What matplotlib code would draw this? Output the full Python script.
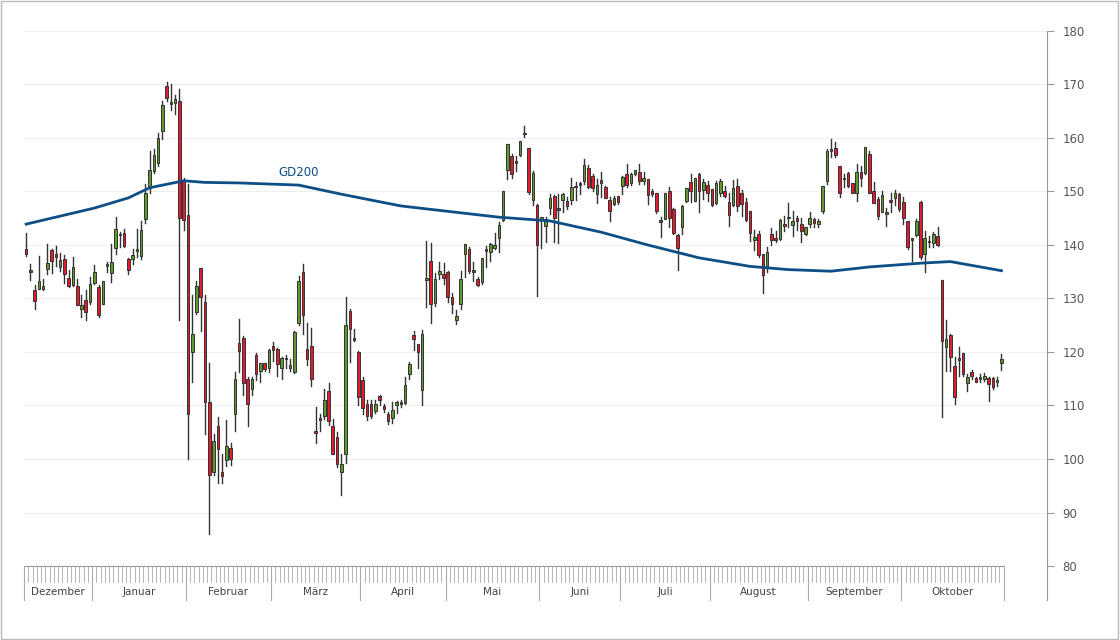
import matplotlib
matplotlib.use("Agg")
import matplotlib.pyplot as plt
from matplotlib.patches import Rectangle
import numpy as np

opens = [139.3,135,131.6,131.8,131.8,135.5,139.1,138.4,135.8,137.4,133.8,132.5,132.4,128,129.8,129.3,132.9,132.2,129,136,
134.7,139.4,141.8,142.2,137.4,137.4,138.9,137.9,144.8,150.6,153.8,155.4,161.4,169.7,166.4,166.6,167,151.9,145.6,120,
127.5,135.7,129.4,110.6,97.6,106.1,97.5,99.8,102,108.4,121.7,122.7,115,113.1,119.4,116.4,118,117,121.1,120.5,
117.1,118.6,117,116.2,125.5,135,120.5,121.1,105.3,107.3,108,112.7,106.1,104.2,97.5,101,127.7,122.3,120,114.8,
110.3,110.3,109,111.8,110,108.5,107.7,110.1,110.3,110.4,115.9,123.2,121.5,112.9,133.4,137,129.1,134.6,134.6,134.9,
130.3,126,129,138.4,139.2,135,133.6,133,139.2,138.7,139.5,141.4,144.6,154.1,156.7,155.4,156.9,160.7,158.1,148.5,
147.5,144.6,143.5,146.9,149.1,146.6,148.4,148.3,148.5,150.8,151.2,151.9,154.4,152.9,149.5,152.2,150.9,148.5,147.7,149.2,
151,153.3,151.5,153.2,153.7,151.9,152.3,150.1,149.8,144.3,144.8,150,146.7,141.9,143.3,148.3,151.7,148.3,153.2,150.2,
151.2,150.5,147.8,149.8,150,148.1,147.4,151.1,149.7,148,146.4,140.9,142,138.3,135.8,142,141.3,141.1,143.9,145,
143.7,145,144,142.1,143.9,144.9,143.9,146.4,151.9,157.6,158.1,154.8,152.3,153.5,151.5,149.8,153.7,153.5,157,150,
148.6,146.1,145.8,148.4,148.7,149.5,148.1,144.5,141,141.9,148,138.4,140.5,140.3,141.7,133.5,120.9,123.2,117.4,118.5,
119.8,114.2,116.3,115.1,115,115,115.1,115.1,114.3,118]
closes = [138.3,135,129.6,133.2,132.4,136.6,137.1,137.8,137.2,134.6,132.4,135.8,128.8,128.8,127.4,132.7,135,127,133.3,136.5,
136.8,143,141.8,139.8,135.4,138.2,139.2,142.8,149.8,154,156.8,160,166.1,167.4,166.4,167.3,145,144.7,108.5,123.4,
132.4,130.2,110.6,97,103.3,101.8,96.9,102.4,100,115,120.1,114.2,110.3,115,115.9,118,116.8,120.4,120.4,117.8,
118.9,118.6,117.6,123.8,133.3,126.9,118.7,115,104.8,107.3,111.1,107.1,101,99,99,125,124.3,122.3,111.6,109.6,
108,108,110.2,111,109.3,107.1,109.2,110.7,110.3,113.9,117.8,122.4,120,123.4,133.9,128.9,133.6,135.2,133.8,130.2,
129,126.8,133.6,140.1,135.2,135,132.5,137.5,138.8,140.1,140,143.8,150.1,158.8,153.2,155.4,159.5,160.7,149.9,153.5,
140,145.2,144.9,148.8,145.1,146.6,149.6,147.2,150.9,151.1,151.2,154.9,150.9,150.7,151.2,151.5,148.8,146.4,148.8,148,
152.8,151.2,153.2,154,151.9,152.6,149.4,149.5,146.3,144.3,149.8,145.1,142.3,139.5,147.2,150.7,150,152.6,150,151.7,
149.8,147.5,151.6,152,149.1,145.6,150.7,147.2,147.7,144.7,142.2,141.5,138.1,134.4,138.6,140.9,140.9,144.7,143.5,145,
144.5,144.5,142.7,143.3,145,144.1,144.5,151.1,157.6,157.6,156.8,149.8,152.3,151.1,149.8,153.7,152.6,158.4,149.8,147.8,
145.4,149.3,145.8,148,149.8,146.7,145,139.6,141,144.5,137.7,141.4,140.5,142.1,140,122,122.4,119,111.5,118.5,
115.8,115.4,115.5,114.3,115,115.6,114,113.4,114.8,118.7]
highs = [142.2,136.5,132.5,138,133.7,140.2,139.3,139.9,138.5,138.1,135.3,137.7,133.7,130.6,131.5,134.1,136.3,132.5,133.3,136.8,
140.1,145.3,142.5,143,137.6,139.2,143,144.4,151.4,157.6,157.9,160.9,166.9,170.5,170.1,168.1,169.1,152.5,151.4,130.6,
133.2,135.7,130.6,117.9,104.6,107.9,101,107.3,103.05,116.3,126.2,123,115.4,115.4,119.8,118,118,120.6,121.9,120.75,
119,119.4,118.7,123.9,134.2,136.4,125.4,124.5,109.8,108.5,113,114.2,107.5,105,101,130.2,128,124.3,120.1,115.4,
111,111.1,111,112,110.2,108.8,110.6,110.8,111.1,115.4,118.1,124,121.5,124.1,140.75,140.3,134.8,136.85,136.7,135.2,
131,127.9,135.1,140.25,139.6,136.9,134.1,137.6,139.8,140.4,142.2,144.3,150.1,158.8,157,156.6,159.5,162.2,158.1,153.8,
147.7,145.2,145.2,149.5,149.4,149.5,149.8,148.9,152.6,151.7,151.8,156,154.9,153.2,152.3,153.7,151.1,148.9,149.2,149.2,
152.9,155.2,153.5,154.1,155.2,153.7,152.3,150.4,149.8,145.2,149.8,150.8,146.9,142.1,147.4,150.7,153.2,152.6,153.5,152.3,
152,150.5,152,152.3,151.1,149.8,152.2,152.3,150.2,148.7,146.4,142.8,142.7,138.3,139.6,143.2,142.6,144.9,145.5,147.8,
146.4,145.5,145,143.3,146.1,145,144.9,151.1,157.9,159.8,159.2,154.8,153.3,153.6,151.5,155.1,154.8,158.4,157.5,151.7,
148.9,150,146.9,149.8,150.2,149.8,149,144.5,141.4,144.9,148.2,142.7,141.6,142.4,143.3,133.5,125.9,123.4,119,120.9,
119.9,115.9,116.6,115.3,115.9,116,115.3,115.3,115.3,119.6]
lows = [138,133.4,128.1,131.7,131.6,134.5,134.8,136.1,135.2,132.9,132.2,132.3,128.7,126.5,126,129,132.7,126.5,129,134.9,
133,138.4,139.7,139.6,134.5,136.4,137.7,137.3,144.2,149.8,153.5,154.8,159.8,167,165.3,164.4,126,142.8,100,114.4,
127.1,123.9,104.6,86,97,95.5,95.6,98.7,98.8,105.2,116.3,111.9,106.1,111.9,114.8,114.4,116.5,116.3,118.4,115.6,
115,117,116.4,116,125.1,123.4,117.5,113.7,103,105.2,107.5,106.4,101,98.5,93.3,99.3,118.1,122.1,110,108.5,
107.3,107.6,108.6,110.1,108.8,106.6,106.8,108.6,109.7,110.3,115,120.4,117,110.1,128.5,125.5,128.6,133.6,132.8,129.3,
127.3,125.3,128,133.95,134.7,133.3,132.3,132.8,135.8,137,139.3,138.7,144.4,152.4,152.6,153.8,156.7,160.1,149.5,147.5,
130.5,139.5,140.6,145.8,140.6,140.3,146.1,146.7,147.7,148.5,149.5,151.4,150.7,150,147.8,149,148.7,144.4,147.5,147.7,
149.6,150.9,151.2,153,151.4,151.4,147.7,149.2,145.9,141.5,144.8,143.3,142.1,135.3,142.1,148,148,148.3,146.1,148.6,
148.3,147.3,147.7,149.2,148.9,143.6,147.2,146.4,145.5,144.5,140.7,139,137.8,131,134.9,140,140.6,140.9,142.7,143.3,
141.6,142.8,140.6,141.9,143.3,143.3,143.4,145.9,151.4,156.4,156.5,148.9,150.8,150.8,149.8,148.3,151.1,153.3,149.8,147.8,
144.9,146.1,143.6,146.1,147.5,146.4,144,139.3,137.1,141.6,137.4,135,139.6,139.7,139.9,107.8,116.5,116.5,110.2,115.6,
115.6,112.8,114.95,114.3,114.3,114.6,110.9,113.1,113.7,116.6]

gd200_idx = [0,8,16,24,29,37,42,50,64,74,88,100,111,123,135,146,158,170,179,189,198,210,217,229]
gd200_val = [143.9,145.4,146.9,148.8,150.7,152.0,151.7,151.6,151.2,149.5,147.3,146.2,145.2,144.5,142.4,140.0,137.6,136.0,135.4,135.1,135.9,136.6,136.9,135.2]

months = ["Dezember","Januar","Februar","März","April","Mai","Juni","Juli","August","September","Oktober"]
month_bounds = [-0.5,15.5,37.5,57.5,78.5,98.5,120.5,139.5,160.5,183.5,205.5,229.5]
yticks = [80,90,100,110,120,130,140,150,160,170,180]

fig = plt.figure(figsize=(11.2,6.4), dpi=100)
fig.patch.set_facecolor("white")
fig.add_artist(Rectangle((0.0005,0.001),0.998,0.997, transform=fig.transFigure, fill=False, ec="#bbbbbb", lw=1))
ax = fig.add_axes([24/1120, 1-566/640, (1047-24)/1120, (566-31)/640])
ax.set_xlim(-0.5, 239.7)
ax.set_ylim(80, 180)
for y in yticks:
    ax.axhline(y, color="#eeeeee", lw=0.8, zorder=0)

w = 0.6
for i,(o,c,h,l) in enumerate(zip(opens,closes,highs,lows)):
    ax.plot([i,i],[l,h], color="#333333", lw=1, zorder=2)
    col = "#5e9a2c" if c > o else ("#e8192c" if c < o else "#555555")
    lo, hi = min(o,c), max(o,c)
    ax.add_patch(Rectangle((i-w/2, lo), w, max(hi-lo,0.3), fc=col, ec="#333333", lw=0.7, zorder=3))

ax.plot(gd200_idx, gd200_val, color="#0d4f85", lw=2, zorder=4)
ax.text(64, 152.3, "GD200", color="#0d4f85", fontsize=8.5, ha="center", va="bottom")

for s in ["top","left","bottom"]:
    ax.spines[s].set_visible(False)
ax.spines["right"].set_color("#999999")
ax.yaxis.tick_right()
ax.set_yticks(yticks)
ax.tick_params(axis="y", colors="#999999", labelcolor="#555555", labelsize=8.5, length=5, pad=6)
ax.set_xticks([])

# day and month ticks below axis
tr = ax.get_xaxis_transform()
ax.plot([-0.5,229.5],[0,0], transform=tr, color="#999999", lw=0.8, clip_on=False)
for k in range(231):
    ax.plot([k-0.5,k-0.5],[0,-16/535], transform=tr, color="#aaaaaa", lw=0.6, clip_on=False)
for b in month_bounds:
    ax.plot([b,b],[0,-34/535], transform=tr, color="#aaaaaa", lw=0.8, clip_on=False)
for m,a,b in zip(months, month_bounds[:-1], month_bounds[1:]):
    ax.text((a+b)/2, -26/535, m, transform=tr, ha="center", va="center", fontsize=7.5, color="#444444")
ax.plot([239.7,239.7],[0,-34/535], transform=tr, color="#999999", lw=0.8, clip_on=False)

fig.savefig("out.png", dpi=100)
